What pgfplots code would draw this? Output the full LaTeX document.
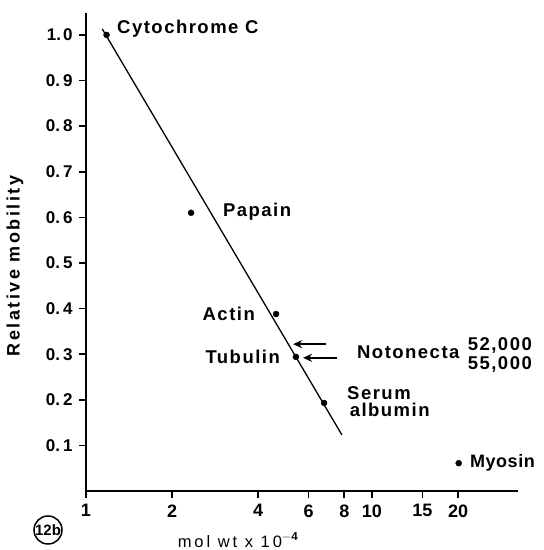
\documentclass[border=0pt]{standalone}
\usepackage{fontspec}
\setmainfont{Liberation Sans}
\usepackage{pgfplots}
\pgfplotsset{compat=1.18}
\usetikzlibrary{arrows.meta}
\newcommand{\lab}{\bfseries\fontsize{18.5}{20}\selectfont\addfontfeatures{LetterSpace=8}}
\begin{document}
\begin{tikzpicture}[x=1pt,y=1pt]
\useasboundingbox (0,0) rectangle (544,550);
\begin{axis}[
  at={(86pt,59pt)}, anchor=south west,
  scale only axis, width=432pt, height=478pt,
  xmode=log, xmin=1, xmax=32.4, ymin=0, ymax=1.048,
  axis lines=left, axis line style={line width=2pt, -},
  xtick={1,2,4,6,8,10,15,20},
  xticklabels={1,2,4,6,8,10,15,20},
  minor xtick={},
  ytick={0.1,0.2,0.3,0.4,0.5,0.6,0.7,0.8,0.9,1.0},
  yticklabels={0.\hspace{3pt}1,0.\hspace{3pt}2,0.\hspace{3pt}3,0.\hspace{3pt}4,0.\hspace{3pt}5,0.\hspace{3pt}6,0.\hspace{3pt}7,0.\hspace{3pt}8,0.\hspace{3pt}9,1.\hspace{2pt}0},
  tick align=outside, major tick length=7pt,
  tick style={line width=1.6pt, black},
  yticklabel style={font=\bfseries\fontsize{17}{19}\selectfont, xshift=-3pt},
  xticklabel style={font=\bfseries\fontsize{18}{20}\selectfont, yshift=-3pt},
  /pgf/number format/assume math mode=true,
  clip=false,
]
% fitted line
\addplot[black, line width=1.3pt, no marks] coordinates {(1.14,1.013) (7.85,0.123)};
% data points
\addplot[only marks, mark=*, mark size=3pt, black] coordinates {
  (1.18,1.0) (2.33,0.61) (4.62,0.388) (5.42,0.294) (6.80,0.193) (20.1,0.061)
};
% arrows
\draw[line width=1.8pt, -{Stealth[length=9pt,width=8pt]}] (axis cs:6.9,0.322) -- (axis cs:5.3,0.322);
\draw[line width=1.8pt, -{Stealth[length=9pt,width=8pt]}] (axis cs:7.55,0.292) -- (axis cs:5.74,0.292);
% labels
\node[anchor=west, inner sep=0] at (axis cs:1.284,1.013) {\lab Cytochrome C};
\node[anchor=west, inner sep=0] at (axis cs:3.01,0.612) {\lab Papain};
\node[anchor=east, inner sep=0] at (axis cs:3.90,0.388) {\lab Actin};
\node[anchor=east, inner sep=0] at (axis cs:4.77,0.294) {\lab Tubulin};
\node[anchor=west, inner sep=0] at (axis cs:8.86,0.305) {\lab Notonecta};
\node[anchor=west, inner sep=0] at (axis cs:21.6,0.320) {\lab 52,000};
\node[anchor=west, inner sep=0] at (axis cs:21.6,0.278) {\lab 55,000};
\node[anchor=west, inner sep=0] at (axis cs:8.18,0.215) {\lab Serum};
\node[anchor=west, inner sep=0] at (axis cs:8.35,0.178) {\lab albumin};
\node[anchor=west, inner sep=0] at (axis cs:22.0,0.061) {\bfseries\fontsize{18}{20}\selectfont\addfontfeatures{LetterSpace=3}Myosin};
\end{axis}
\node[rotate=90] at (15,284) {\bfseries\fontsize{18}{20}\selectfont\addfontfeatures{LetterSpace=14}Relative mobility};
\node at (238,10) {\fontsize{16.5}{18}\selectfont\addfontfeatures{LetterSpace=18}mol wt x 10$^{\mathbf{-4}}$};
\node[circle, draw, line width=1.5pt, inner sep=0pt, minimum size=27pt] at (48,20) {\bfseries\fontsize{15}{16}\selectfont 12b};
\end{tikzpicture}
\end{document}
